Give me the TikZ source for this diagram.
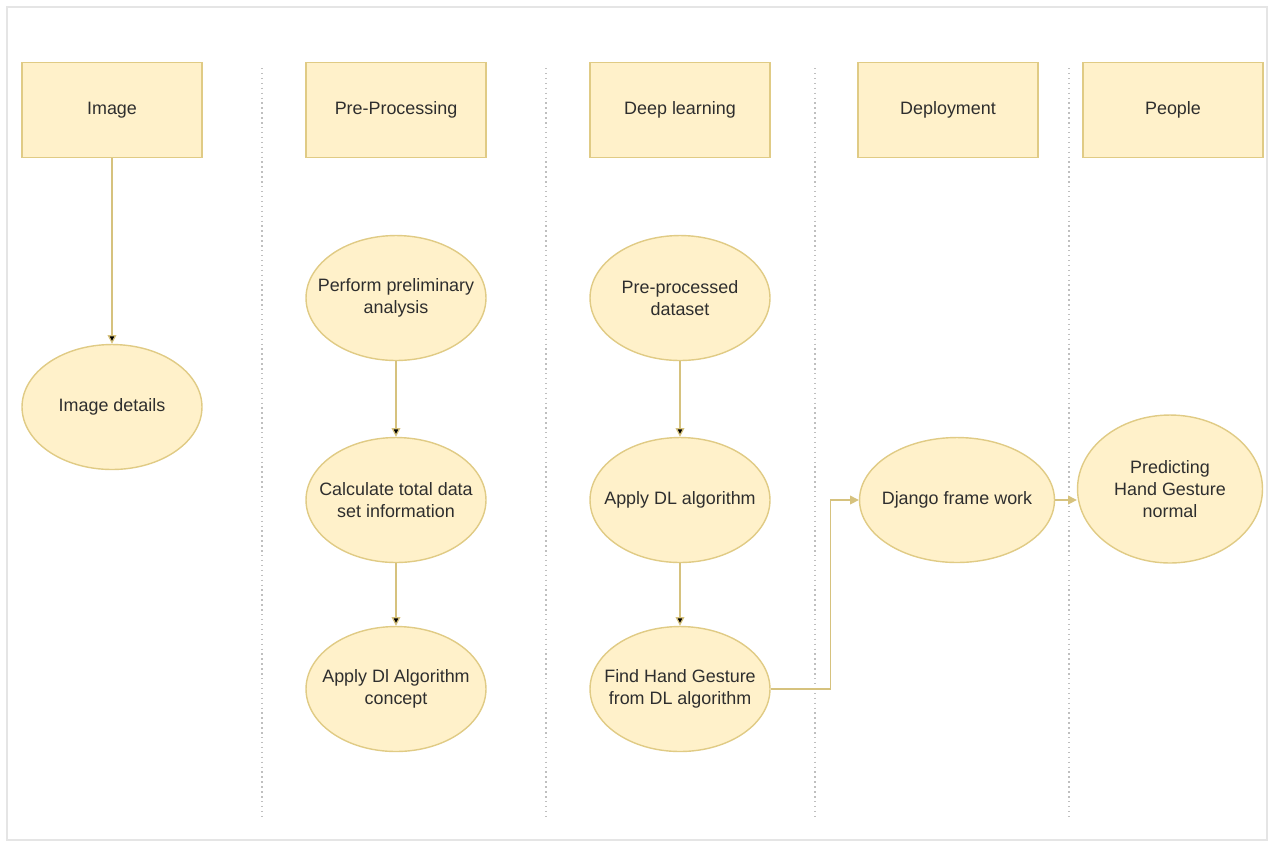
\documentclass[tikz,border=0pt]{standalone}
\usepackage{fontspec}
\setmainfont{Liberation Sans}
\usetikzlibrary{shapes.geometric,arrows.meta}

\definecolor{paleyellow}{HTML}{FFF1CA}
\definecolor{goldline}{HTML}{E0CB85}
\definecolor{arrowgold}{HTML}{D6C27E}
\definecolor{textgray}{HTML}{2E2E2E}

\tikzset{
  lane/.style={shape=rectangle,draw=goldline,fill=paleyellow,line width=0.8pt,
    minimum width=3.6cm,minimum height=1.9cm,text=textgray,
    font=\fontsize{10.2}{12.5}\selectfont},
  task/.style={shape=ellipse,draw=goldline,fill=paleyellow,line width=0.8pt,
    minimum width=3.6cm,minimum height=2.5cm,inner xsep=-14pt,inner ysep=0pt,
    align=center,text=textgray,font=\fontsize{10.2}{12.5}\selectfont},
  flow/.style={draw=arrowgold,line width=0.7pt,-{Triangle[length=5pt,width=5pt]}},
  divider/.style={draw=black!25,dotted,line width=0.8pt}
}

\begin{document}
\begin{tikzpicture}[x=0.02cm,y=-0.02cm]
   \useasboundingbox (0,0) rectangle (1274,850);
   \draw[black!10,line width=0.6pt] (7,7) rectangle (1267,840);

   % lane dividers
   \foreach \lx/\name in {262/d1,546/d2,815/d3,1069/d4} {
     \coordinate (\name top) at (\lx,68);
     \coordinate (\name bot) at (\lx,818);
     \draw[divider] (\name top) -- (\name bot);
   }

   % lane headers
   \node[lane] (image) at (112,110) {Image};
    \node[lane] (prep) at (396,110) {Pre-Processing};
    \node[lane] (deep) at (680,110) {Deep learning};
    \node[lane] (deploy) at (948,110) {Deployment};
    \node[lane] (people) at (1173,110) {People};

   % tasks
   \node[task] (details) at (112,407) {Image details};
    \node[task] (analysis) at (396,298) {Perform preliminary\\analysis};
    \node[task] (total) at (396,500) {Calculate total data\\set information};
    \node[task] (dlconcept) at (396,689) {Apply Dl Algorithm\\concept};
    \node[task] (dataset) at (680,298) {Pre-processed\\dataset};
    \node[task] (applydl) at (680,500) {Apply DL algorithm};
    \node[task] (find) at (680,689) {Find Hand Gesture\\from DL algorithm};
    \node[task,minimum width=3.9cm] (django) at (957,500) {Django frame work};
    \node[task,minimum width=3.7cm,minimum height=2.96cm] (predict) at (1170,489) {Predicting\\Hand Gesture\\normal};

    \path [flow] (image) edge (details);
    \path [flow] (analysis) edge (total);
    \path [flow] (total) edge (dlconcept);
    \path [flow] (dataset) edge (applydl);
    \path [flow] (applydl) edge (find);
    \draw [flow] (find.east) -- ++(60,0) |- (django.west);
    \draw [flow] (django.east) -- (django.east -| predict.west);
\end{tikzpicture}
\end{document}
